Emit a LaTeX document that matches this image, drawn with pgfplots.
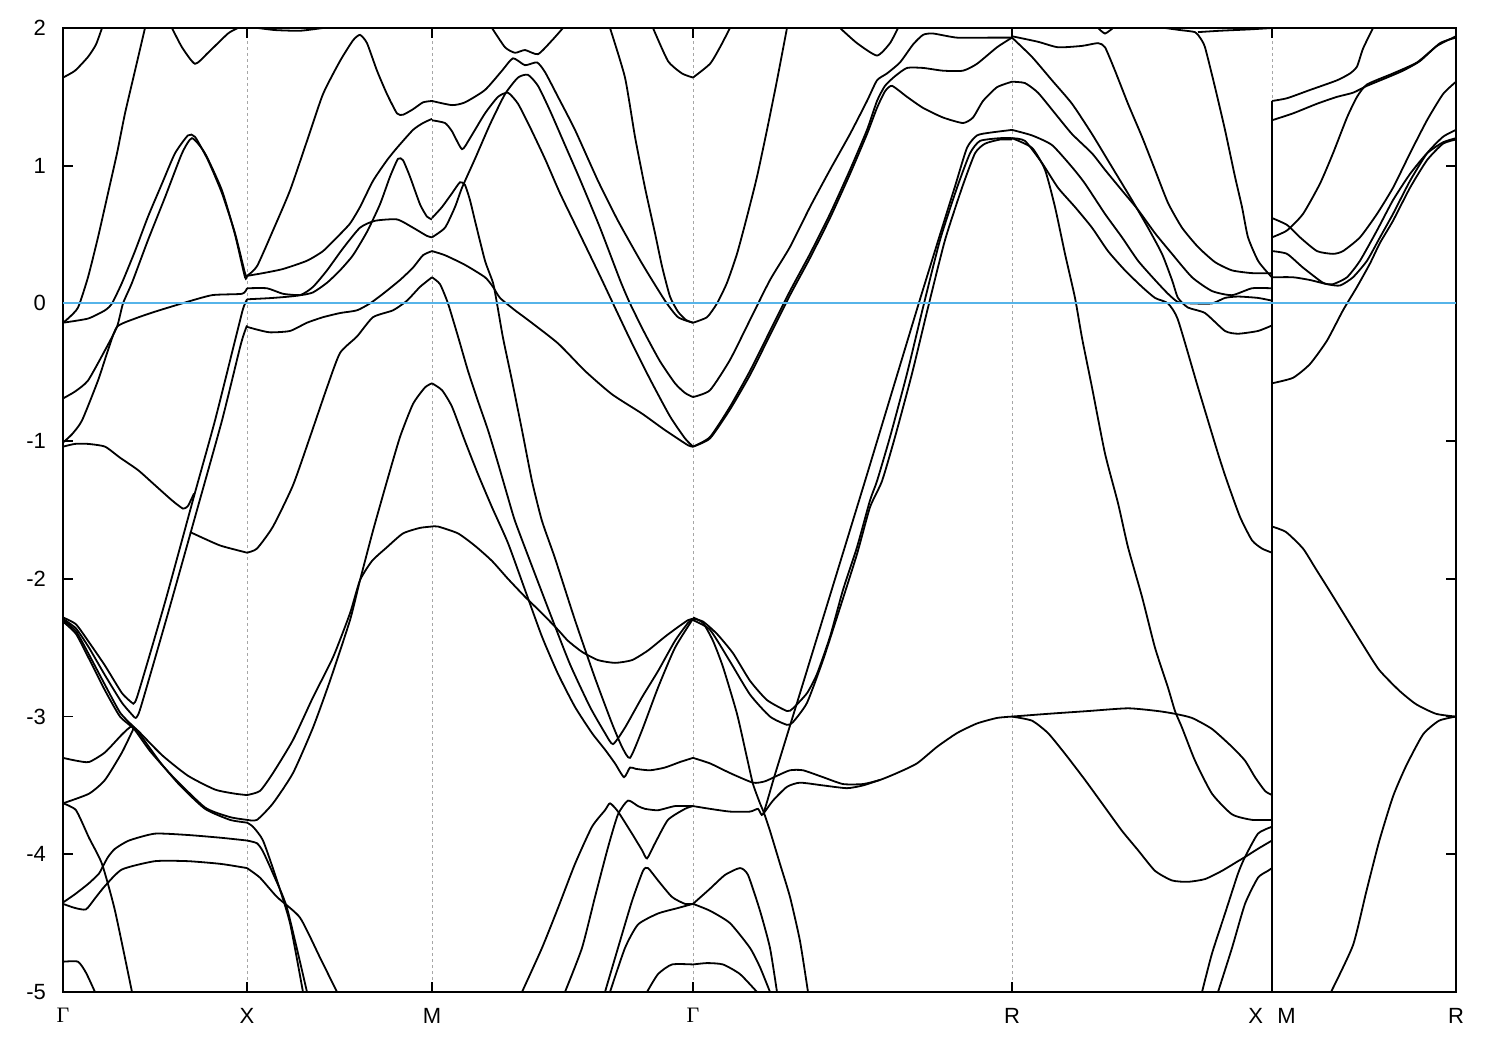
\documentclass[border=0pt]{standalone}
\usepackage{pgfplots}
\pgfplotsset{compat=1.18}
\usepackage{fontspec}
\setmainfont{Liberation Sans}
\newfontfamily\serifg{Liberation Serif}
\definecolor{fermiblue}{RGB}{86,180,233}
\pgfplotsset{band/.style={black, line width=0.9pt, no markers, smooth, tension=0.35}}
\newcommand{\gam}{{\serifg Γ}}
\begin{document}
\begin{tikzpicture}
\begin{axis}[
 scale only axis, width=696.5pt, height=482pt,
 xmin=63, xmax=1456, ymin=-5, ymax=2,
 xtick={63,247,432,693,1012,1272,1456},
 xticklabels={\gam,X,M,\gam,R,X\hspace{0.65em}M,R},
 ytick={-5,-4,-3,-2,-1,0,1,2},
 yticklabels={-5,-4,-3,-2,-1,0,1,2},
 tick align=inside, major tick length=5pt,
 xmajorgrids, grid style={gray!70, dash pattern=on 1.5pt off 1.5pt, line width=0.4pt},
 axis line style={line width=0.9pt},
 every tick/.style={black, line width=0.9pt},
 tick label style={font=\fontsize{11}{13}\selectfont},
 xticklabel style={yshift=-4.5pt},
 yticklabel style={xshift=-5pt},
 clip=true,
]
% Gamma - X
\addplot[band] coordinates {(63,1.64) (75,1.69) (88,1.79) (96,1.88) (102,2.0)};
\addplot[band] coordinates {(63,-0.14) (68,-0.11) (78,-0.03) (88,0.19) (98,0.48) (108,0.80) (117,1.09) (125,1.38) (135,1.69) (145,2.0)};
\addplot[band] coordinates {(172,2.0) (182,1.86) (195,1.74) (208,1.82) (228,1.96) (238,2.0)};
\addplot[band] coordinates {(63,-0.14) (88,-0.11) (105,-0.05) (112,0.0) (122,0.15) (135,0.38) (148,0.63) (162,0.87) (175,1.09) (188,1.22) (195,1.21) (208,1.04) (222,0.80) (235,0.51) (245,0.22) (247,0.20)};
\addplot[band] coordinates {(63,-0.69) (75,-0.64) (88,-0.56) (105,-0.34) (117,-0.17) (123,0.0) (132,0.15) (148,0.46) (165,0.77) (182,1.09) (192,1.20) (205,1.09) (222,0.82) (235,0.50) (245,0.19) (247,0.20)};
\addplot[band] coordinates {(63,-1.01) (72,-0.95) (82,-0.85) (98,-0.56) (108,-0.34) (117,-0.17) (135,-0.11) (155,-0.06) (182,0.0) (212,0.06) (242,0.07) (247,0.11)};
\addplot[band] coordinates {(63,-1.04) (75,-1.02) (88,-1.02) (105,-1.04) (120,-1.12) (138,-1.21) (155,-1.32) (172,-1.43) (183,-1.49) (188,-1.47) (194,-1.38)};
\addplot[band] coordinates {(132,-2.90) (137,-2.86) (165,-2.17) (194,-1.40) (215,-0.85) (235,-0.27) (243,-0.04) (247,0.03)};
\addplot[band] coordinates {(135,-3.01) (140,-2.95) (168,-2.25) (197,-1.50) (222,-0.85) (240,-0.32) (244,-0.22) (247,-0.16)};
\addplot[band] coordinates {(190,-1.66) (196,-1.68) (205,-1.71) (221,-1.76) (247,-1.81)};
\addplot[band] coordinates {(63,-2.28) (76,-2.33) (89,-2.46) (105,-2.63) (122,-2.83) (132,-2.90)};
\addplot[band] coordinates {(63,-2.29) (76,-2.36) (89,-2.50) (105,-2.70) (122,-2.90) (135,-3.01)};
\addplot[band] coordinates {(63,-2.30) (76,-2.38) (89,-2.55) (105,-2.77) (120,-2.97) (133,-3.07) (139,-3.11) (162,-3.28) (188,-3.43) (215,-3.53) (235,-3.56) (247,-3.57)};
\addplot[band] coordinates {(63,-2.31) (76,-2.40) (89,-2.58) (105,-2.81) (120,-3.0) (134,-3.09) (150,-3.25) (172,-3.43) (205,-3.66) (230,-3.73) (247,-3.75)};
\addplot[band] coordinates {(63,-3.30) (76,-3.32) (89,-3.33) (105,-3.26) (122,-3.13) (132,-3.07) (140,-3.13) (160,-3.33) (180,-3.50) (205,-3.67) (230,-3.75) (247,-3.77)};
\addplot[band] coordinates {(63,-3.63) (89,-3.56) (105,-3.46) (122,-3.26) (134,-3.08)};
\addplot[band] coordinates {(63,-3.63) (76,-3.68) (89,-3.88) (102,-4.07) (115,-4.41) (132,-5.0)};
\addplot[band] coordinates {(63,-4.35) (75,-4.29) (89,-4.21) (99,-4.14) (102,-4.10) (108,-4.02) (115,-3.96) (129,-3.90) (155,-3.85) (188,-3.86) (221,-3.88) (247,-3.90)};
\addplot[band] coordinates {(63,-4.36) (75,-4.39) (86,-4.40) (95,-4.32) (105,-4.23) (122,-4.11) (155,-4.05) (188,-4.05) (221,-4.07) (247,-4.10)};
\addplot[band] coordinates {(63,-4.78) (78,-4.78) (86,-4.86) (95,-5.0)};
% X - M
\addplot[band] coordinates {(258,2.0) (275,1.985) (300,1.98) (323,2.0)};
\addplot[band] coordinates {(247,0.20) (257,0.27) (273,0.53) (290,0.82) (307,1.18) (323,1.52) (340,1.76) (353,1.91) (360,1.95) (367,1.89) (377,1.69) (387,1.52) (397,1.38) (403,1.37) (413,1.41) (423,1.46) (432,1.47)};
\addplot[band] coordinates {(247,0.20) (263,0.22) (283,0.25) (307,0.31) (323,0.38) (337,0.48) (350,0.58) (360,0.70) (373,0.89) (387,1.04) (397,1.13) (413,1.26) (423,1.31) (432,1.34)};
\addplot[band] coordinates {(247,0.11) (267,0.11) (283,0.07) (300,0.06) (313,0.08) (327,0.15) (340,0.24) (353,0.35) (367,0.52) (380,0.72) (390,0.92) (398,1.05) (403,1.04) (410,0.92) (420,0.72) (427,0.63) (432,0.61)};
\addplot[band] coordinates {(247,0.03) (273,0.04) (300,0.06) (313,0.12) (327,0.24) (343,0.40) (360,0.55) (375,0.60) (397,0.61) (413,0.55) (427,0.49) (432,0.48)};
\addplot[band] coordinates {(247,-0.17) (257,-0.19) (270,-0.21) (290,-0.20) (307,-0.14) (323,-0.10) (340,-0.07) (357,-0.05) (370,0.0) (383,0.07) (400,0.17) (413,0.26) (423,0.35) (432,0.38)};
\addplot[band] coordinates {(247,-1.81) (257,-1.78) (273,-1.62) (293,-1.32) (310,-0.97) (327,-0.61) (340,-0.36) (357,-0.24) (373,-0.10) (393,-0.05) (407,0.02) (420,0.12) (432,0.19)};
\addplot[band] coordinates {(247,-3.75) (257,-3.75) (273,-3.63) (293,-3.41) (313,-3.08) (330,-2.74) (350,-2.30) (360,-2.01) (373,-1.65) (387,-1.29) (400,-0.97) (413,-0.73) (425,-0.61) (432,-0.58)};
\addplot[band] coordinates {(247,-3.57) (260,-3.54) (273,-3.41) (293,-3.17) (313,-2.86) (333,-2.57) (350,-2.25) (360,-2.01) (372,-1.87) (387,-1.77) (403,-1.67) (420,-1.63) (432,-1.62)};
\addplot[band] coordinates {(247,-3.77) (253,-3.80) (263,-3.90) (277,-4.19) (290,-4.50) (303,-5.0)};
\addplot[band] coordinates {(247,-3.90) (257,-3.92) (263,-3.98) (273,-4.14) (287,-4.39) (307,-5.0)};
\addplot[band] coordinates {(247,-4.10) (260,-4.17) (277,-4.31) (300,-4.46) (320,-4.75) (337,-5.0)};
% M - Gamma
\addplot[band] coordinates {(492,2.0) (505,1.86) (515,1.82) (525,1.84) (538,1.81) (552,1.91) (563,2.0)};
\addplot[band] coordinates {(432,1.47) (452,1.44) (465,1.46) (485,1.55) (502,1.69) (513,1.78) (525,1.73) (537,1.75) (545,1.68) (558,1.50) (575,1.26) (598,0.89) (618,0.60) (642,0.29) (665,0.02) (678,-0.10) (693,-0.14)};
\addplot[band] coordinates {(432,1.33) (445,1.31) (452,1.25) (462,1.12) (470,1.20) (485,1.38) (498,1.50) (508,1.53) (518,1.45) (530,1.28) (545,1.05) (560,0.80) (580,0.50) (600,0.20) (613,0.0) (630,-0.26) (650,-0.55) (670,-0.82) (685,-0.98) (693,-1.04)};
\addplot[band] coordinates {(432,0.48) (445,0.55) (455,0.70) (462,0.84) (475,1.05) (490,1.30) (505,1.52) (518,1.64) (528,1.66) (538,1.58) (550,1.40) (565,1.15) (580,0.90) (600,0.55) (620,0.17) (630,0.0) (645,-0.22) (660,-0.42) (675,-0.58) (685,-0.65) (693,-0.68)};
\addplot[band] coordinates {(432,0.62) (442,0.70) (452,0.80) (460,0.88) (465,0.86) (470,0.75) (475,0.60) (485,0.31) (493,0.15) (497,0.0) (503,-0.25) (512,-0.56) (522,-0.92) (532,-1.29) (542,-1.58) (555,-1.85) (575,-2.30) (595,-2.72) (612,-3.05) (622,-3.22) (630,-3.30) (642,-3.10) (658,-2.79) (675,-2.50) (693,-2.29)};
\addplot[band] coordinates {(432,0.38) (445,0.35) (465,0.28) (485,0.19) (493,0.12) (500,0.04) (515,-0.05) (528,-0.12) (558,-0.29) (585,-0.49) (612,-0.66) (642,-0.80) (665,-0.92) (688,-1.03) (693,-1.04)};
\addplot[band] coordinates {(432,0.19) (440,0.14) (448,0.0) (458,-0.24) (468,-0.49) (478,-0.71) (488,-0.92) (498,-1.16) (508,-1.41) (515,-1.58) (530,-1.87) (550,-2.25) (570,-2.62) (590,-2.93) (605,-3.12) (613,-3.20) (625,-3.08) (642,-2.86) (658,-2.67) (675,-2.45) (688,-2.32) (693,-2.29)};
\addplot[band] coordinates {(432,-0.58) (442,-0.63) (452,-0.75) (465,-1.0) (478,-1.24) (492,-1.48) (508,-1.74) (525,-2.08) (542,-2.42) (558,-2.69) (575,-2.93) (592,-3.12) (605,-3.24) (615,-3.34) (624,-3.44) (630,-3.37) (636,-3.38) (650,-3.39) (665,-3.37) (680,-3.33) (693,-3.30)};
\addplot[band] coordinates {(432,-1.62) (438,-1.62) (458,-1.67) (475,-1.76) (492,-1.87) (508,-2.0) (525,-2.13) (542,-2.25) (558,-2.37) (568,-2.45) (582,-2.53) (598,-2.59) (615,-2.61) (632,-2.59) (648,-2.52) (665,-2.42) (678,-2.35) (688,-2.30) (693,-2.29)};
\addplot[band] coordinates {(610,2.0) (625,1.64) (635,1.21) (645,0.84) (655,0.51) (662,0.27) (670,0.05) (678,-0.06) (686,-0.12) (693,-0.14)};
\addplot[band] coordinates {(653,2.0) (668,1.76) (682,1.67) (693,1.64)};
\addplot[band] coordinates {(522,-5.0) (542,-4.68) (558,-4.39) (575,-4.07) (592,-3.80) (605,-3.68) (610,-3.63) (618,-3.69) (632,-3.85) (642,-3.97) (647,-4.03) (655,-3.92) (668,-3.75) (685,-3.67) (693,-3.65)};
\addplot[band] coordinates {(565,-5.0) (582,-4.68) (595,-4.31) (608,-3.95) (618,-3.71) (628,-3.61) (638,-3.65) (645,-3.67) (658,-3.68) (675,-3.65) (693,-3.65)};
\addplot[band] coordinates {(605,-5.0) (618,-4.68) (632,-4.34) (643,-4.12) (648,-4.10) (658,-4.19) (672,-4.31) (685,-4.36) (693,-4.36)};
\addplot[band] coordinates {(610,-5.0) (625,-4.68) (638,-4.51) (658,-4.43) (678,-4.39) (693,-4.36)};
\addplot[band] coordinates {(647,-5.0) (658,-4.87) (672,-4.80) (693,-4.80)};
% Gamma - R
\addplot[band] coordinates {(693,1.64) (710,1.74) (720,1.86) (730,2.0)};
\addplot[band] coordinates {(693,-0.14) (707,-0.10) (717,0.0) (727,0.15) (737,0.36) (747,0.63) (757,0.92) (767,1.26) (777,1.62) (787,2.0)};
\addplot[band] coordinates {(840,2.0) (857,1.89) (877,1.80) (890,1.89) (898,2.0)};
\addplot[band] coordinates {(693,-0.68) (710,-0.63) (730,-0.41) (750,-0.12) (770,0.17) (790,0.41) (810,0.70) (830,0.97) (850,1.23) (867,1.47) (877,1.62) (887,1.67) (900,1.75) (913,1.88) (923,1.95) (933,1.96) (957,1.93) (990,1.93) (1012,1.93)};
\addplot[band] coordinates {(693,-1.04) (710,-0.97) (730,-0.75) (750,-0.49) (770,-0.20) (790,0.09) (810,0.36) (830,0.65) (850,0.97) (867,1.26) (877,1.47) (885,1.58) (895,1.65) (907,1.71) (923,1.71) (943,1.69) (963,1.69) (977,1.74) (997,1.86) (1012,1.93)};
\addplot[band] coordinates {(693,-1.04) (710,-0.98) (730,-0.77) (750,-0.52) (770,-0.23) (790,0.06) (810,0.33) (830,0.62) (850,0.94) (867,1.23) (877,1.42) (885,1.54) (892,1.58) (907,1.50) (923,1.42) (943,1.35) (963,1.31) (973,1.35) (983,1.47) (997,1.57) (1012,1.61)};
\addplot[band] coordinates {(693,-2.29) (703,-2.31) (717,-2.40) (733,-2.54) (750,-2.74) (767,-2.88) (787,-2.96) (793,-2.94) (807,-2.83) (817,-2.69) (830,-2.42) (843,-2.08) (857,-1.77) (870,-1.43) (877,-1.29) (890,-0.97) (907,-0.51) (923,-0.03) (940,0.46) (957,0.84) (970,1.09) (980,1.18) (1000,1.20) (1012,1.20)};
\addplot[band] coordinates {(693,-2.30) (710,-2.37) (730,-2.60) (750,-2.84) (770,-3.0) (787,-3.06) (793,-3.04) (807,-2.90) (823,-2.59) (840,-2.21) (857,-1.82) (870,-1.48) (882,-1.29) (895,-0.97) (912,-0.51) (928,-0.03) (945,0.46) (962,0.84) (975,1.09) (985,1.16) (1000,1.19) (1012,1.19)};
\addplot[band] coordinates {(693,-3.65) (710,-3.67) (730,-3.69) (750,-3.69) (758,-3.67) (763,-3.71) (775,-3.42) (800,-2.83) (830,-2.12) (865,-1.29) (880,-0.93) (900,-0.45) (920,0.03) (940,0.50) (955,0.85) (967,1.13) (977,1.22) (990,1.24) (1012,1.26)};
\addplot[band] coordinates {(693,-3.30) (710,-3.34) (730,-3.41) (753,-3.48) (765,-3.47) (777,-3.43) (790,-3.39) (803,-3.39) (823,-3.44) (843,-3.49) (863,-3.49) (880,-3.46) (897,-3.41) (917,-3.34) (937,-3.22) (957,-3.12) (977,-3.05) (997,-3.01) (1012,-3.0)};
\addplot[band] coordinates {(763,-3.71) (773,-3.61) (787,-3.51) (800,-3.48) (823,-3.50) (847,-3.52) (863,-3.50) (880,-3.46)};
\addplot[band] coordinates {(693,-2.28) (703,-2.32) (713,-2.45) (723,-2.64) (737,-2.98) (747,-3.30) (753,-3.49) (760,-3.63) (764,-3.70) (770,-3.83) (780,-4.07) (790,-4.31) (800,-4.63) (808,-5.0)};
\addplot[band] coordinates {(693,-4.36) (710,-4.25) (725,-4.15) (740,-4.10) (748,-4.15) (760,-4.41) (770,-4.68) (777,-5.0)};
\addplot[band] coordinates {(693,-4.36) (710,-4.41) (730,-4.50) (750,-4.68) (760,-4.82) (770,-5.0)};
\addplot[band] coordinates {(693,-4.80) (707,-4.79) (723,-4.80) (740,-4.87) (757,-5.0)};
% R - X
\addplot[band] coordinates {(1012,1.94) (1038,1.90) (1058,1.86) (1082,1.87) (1098,1.89) (1105,1.86) (1115,1.69) (1128,1.45) (1142,1.21) (1155,0.97) (1168,0.73) (1182,0.55) (1198,0.41) (1215,0.30) (1232,0.24) (1252,0.22) (1272,0.22)};
\addplot[band] coordinates {(1012,1.93) (1032,1.79) (1052,1.62) (1072,1.45) (1092,1.23) (1112,0.99) (1132,0.75) (1148,0.55) (1162,0.36) (1172,0.17) (1178,0.04) (1188,-0.03) (1205,-0.07) (1225,-0.20) (1238,-0.22) (1258,-0.20) (1272,-0.16)};
\addplot[band] coordinates {(1098,2.0) (1105,1.96) (1113,2.0)};
\addplot[band] coordinates {(1165,2.0) (1180,1.985) (1195,1.97) (1200,1.93) (1205,1.86) (1215,1.57) (1225,1.26) (1235,0.92) (1242,0.70) (1248,0.48) (1258,0.31) (1268,0.22) (1272,0.19)};
\addplot[band] coordinates {(1198,1.97) (1220,1.98) (1250,1.99) (1272,2.0)};
\addplot[band] coordinates {(1012,1.61) (1025,1.60) (1038,1.53) (1055,1.38) (1072,1.23) (1092,1.09) (1105,0.97) (1122,0.82) (1138,0.68) (1155,0.51) (1172,0.36) (1192,0.19) (1212,0.09) (1232,0.06) (1252,0.11) (1272,0.11)};
\addplot[band] coordinates {(1012,1.26) (1032,1.22) (1052,1.15) (1072,0.99) (1085,0.87) (1105,0.65) (1122,0.48) (1138,0.31) (1155,0.17) (1168,0.07) (1178,0.01) (1192,0.0) (1212,0.0) (1225,0.04) (1238,0.05) (1258,0.04) (1272,0.02)};
\addplot[band] coordinates {(1012,1.20) (1025,1.18) (1042,1.02) (1058,0.84) (1075,0.70) (1092,0.55) (1108,0.38) (1125,0.24) (1142,0.12) (1155,0.04) (1168,0.0) (1178,-0.12) (1198,-0.61) (1218,-1.09) (1227,-1.29) (1240,-1.55) (1252,-1.72) (1262,-1.78) (1272,-1.81)};
\addplot[band] coordinates {(1012,1.20) (1032,1.13) (1045,0.97) (1055,0.70) (1065,0.36) (1075,0.04) (1082,-0.25) (1092,-0.61) (1105,-1.09) (1118,-1.45) (1128,-1.77) (1142,-2.13) (1155,-2.50) (1168,-2.79) (1175,-2.96) (1182,-3.08) (1195,-3.32) (1212,-3.56) (1232,-3.71) (1252,-3.75) (1272,-3.75)};
\addplot[band] coordinates {(1012,-3.0) (1048,-2.98) (1088,-2.96) (1128,-2.94) (1158,-2.96) (1175,-2.98) (1192,-3.01) (1212,-3.09) (1232,-3.22) (1245,-3.32) (1255,-3.44) (1265,-3.54) (1272,-3.57)};
\addplot[band] coordinates {(1012,-3.0) (1032,-3.03) (1048,-3.12) (1065,-3.27) (1085,-3.46) (1105,-3.66) (1122,-3.83) (1138,-3.97) (1155,-4.12) (1172,-4.19) (1188,-4.20) (1205,-4.18) (1222,-4.12) (1238,-4.05) (1245,-4.02) (1258,-3.96) (1272,-3.90)};
\addplot[band] coordinates {(1202,-5.0) (1212,-4.72) (1225,-4.43) (1238,-4.14) (1245,-4.02) (1258,-3.85) (1272,-3.80)};
\addplot[band] coordinates {(1218,-5.0) (1232,-4.68) (1245,-4.36) (1258,-4.17) (1268,-4.12) (1272,-4.10)};
% M - R
\addplot[band] coordinates {(1272,1.47) (1287,1.49) (1310,1.55) (1337,1.62) (1350,1.67) (1357,1.72) (1363,1.85) (1373,2.0)};
\addplot[band] coordinates {(1272,1.33) (1293,1.38) (1317,1.45) (1337,1.50) (1353,1.53) (1367,1.58) (1387,1.64) (1403,1.69) (1420,1.76) (1440,1.89) (1456,1.93)};
\addplot[band] coordinates {(1272,0.48) (1287,0.53) (1303,0.65) (1320,0.87) (1333,1.09) (1347,1.35) (1357,1.50) (1367,1.59) (1393,1.67) (1417,1.75) (1437,1.87) (1456,1.94)};
\addplot[band] coordinates {(1272,0.62) (1287,0.57) (1300,0.48) (1317,0.38) (1333,0.36) (1343,0.38) (1360,0.48) (1377,0.65) (1393,0.84) (1410,1.09) (1427,1.33) (1443,1.52) (1456,1.61)};
\addplot[band] coordinates {(1272,0.38) (1287,0.36) (1303,0.26) (1323,0.15) (1333,0.14) (1347,0.19) (1360,0.31) (1377,0.53) (1393,0.75) (1410,0.94) (1427,1.09) (1443,1.17) (1456,1.20)};
\addplot[band] coordinates {(1272,0.19) (1293,0.19) (1310,0.17) (1327,0.14) (1340,0.13) (1353,0.19) (1367,0.31) (1380,0.48) (1393,0.65) (1410,0.89) (1427,1.09) (1443,1.21) (1456,1.26)};
\addplot[band] coordinates {(1272,-0.58) (1293,-0.54) (1310,-0.44) (1327,-0.27) (1343,-0.05) (1357,0.12) (1370,0.29) (1380,0.44) (1393,0.60) (1410,0.84) (1427,1.04) (1443,1.16) (1456,1.19)};
\addplot[band] coordinates {(1272,-1.62) (1286,-1.66) (1303,-1.78) (1316,-1.93) (1329,-2.08) (1346,-2.28) (1363,-2.48) (1379,-2.66) (1399,-2.81) (1416,-2.91) (1436,-2.98) (1456,-3.0)};
\addplot[band] coordinates {(1331,-5.0) (1353,-4.66) (1366,-4.28) (1379,-3.91) (1393,-3.58) (1406,-3.36) (1423,-3.13) (1439,-3.03) (1456,-3.0)};
\addplot[black, line width=0.9pt, no markers] coordinates {(1272,-5) (1272,1.47)};
% Fermi level
\addplot[color=fermiblue, line width=1pt, no markers] coordinates {(63,0) (1456,0)};
\end{axis}
\pgfresetboundingbox
\path ([xshift=-31.5pt,yshift=-29pt]current axis.south west) rectangle ([xshift=22pt,yshift=14pt]current axis.north east);
\end{tikzpicture}
\end{document}
